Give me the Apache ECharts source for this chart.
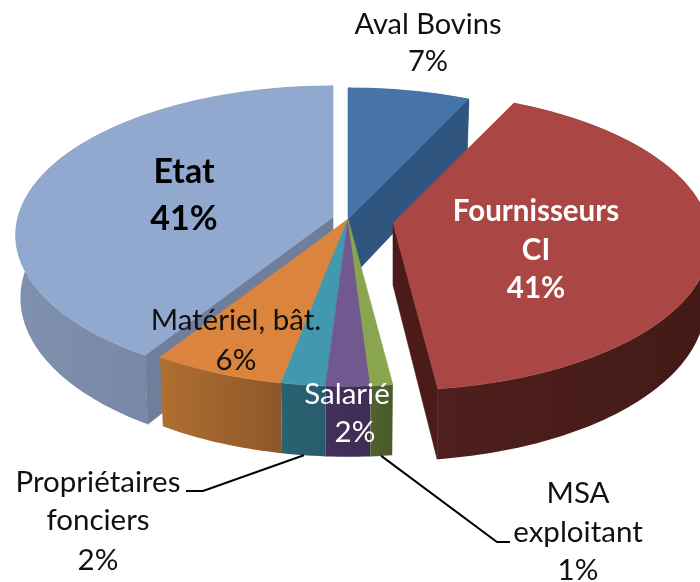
<!DOCTYPE html>
<html><head><meta charset="utf-8">
<style>html,body{margin:0;padding:0;background:#fff}#c{width:700px;height:582px}</style>
<script src="https://cdn.jsdelivr.net/npm/echarts@6/dist/echarts.min.js"></script>
</head><body><div id="c"></div>
<script>
// --- data ---
const sliceNames = ['Aval Bovins', 'Fournisseurs CI', 'MSA exploitant', 'Salarié', 'Propriétaires fonciers', 'Matériel, bât.', 'Etat'];
const shares = [7, 41, 1, 2, 2, 6, 41];
// --- style ---
const topColors  = ['#4673A8', '#AA4643', '#89A54E', '#71588F', '#4198AF', '#DB843D', '#92A9CF'];
const sideColors = [['#30557F','#30557F'], ['#4E1F1C','#431A17'], ['#516130','#4A5A28'], ['#43305A','#3F2D55'], ['#2A6272','#275C6C'], ['#B06F30','#8C5829'], ['#8091B0','#6C7C99']];
const cutColors  = ['#30557F', '#4A1B18', '#4A5A28', '#3F2D55', '#265A6A', '#8C5829', '#6E7E9B'];
// --- layout ---
const center = [348, 219], radiusX = 315, radiusY = 147, persp = 0.121, depth = 62, lowShrink = 0.985;
const explode = [[0,0], [45,4], [0,0], [0,0], [0,0], [0,0], [-15,-2]];
const paintOrder = [6, 0, 1, 5, 4, 3, 2];
// which radial edge of a slice shows its cut face: 'start', 'end' or none
const cutEdge = ['end', 'end', null, null, null, null, 'start'];
const labelFont = '29.5px Lato, sans-serif';
const labels = [
  {i:0, lines:[['Aval Bovins',428,25],['%',428,62]], color:'#111', font:'29px Lato, sans-serif'},
  {i:6, lines:[['Etat',184,172],['%',184,219]], color:'#000', font:'bold 34px Lato, sans-serif'},
  {i:1, lines:[['Fournisseurs',536,211],['CI',536,250],['%',536,288]], color:'#fff', font:'bold 29.5px Lato, sans-serif'},
  {i:5, lines:[['Matériel, bât.',236,320],['%',236,360]], color:'#111', font:labelFont},
  {i:3, lines:[['Salarié',347,394],['%',355,432]], color:'#fff', font:labelFont},
  {i:4, lines:[['Propriétaires',98,482],['fonciers',98,520],['%',98,560]], color:'#111', font:labelFont},
  {i:2, lines:[['MSA',578,493],['exploitant',578,532],['%',578,570]], color:'#111', font:labelFont}
];
const leaders = [{i:4, via:[[203,491],[186,491]]}, {i:2, via:[[497,542],[510,542]]}];

const total = shares.reduce((a,b)=>a+b,0);
const starts = []; shares.reduce((a,b,i)=>{starts[i]=a; return a+b;},0);
const rad = v => v/total*2*Math.PI;

function project(th, ex, low){
  const s = 1/(1+persp*Math.cos(th));
  return [center[0]+ex[0]+radiusX*Math.sin(th)*s*(low?lowShrink:1),
          center[1]+ex[1]-radiusY*Math.cos(th)*s+(low?depth*s:0)];
}
function arc(a,b,ex,low){
  const n=Math.max(4,Math.ceil((b-a)/0.02)), out=[];
  for(let k=0;k<=n;k++) out.push(project(a+(b-a)*k/n,ex,low));
  return out;
}
function apex(ex,low){return [center[0]+ex[0],center[1]+ex[1]+(low?depth:0)];}
function poly(points,fill,z){
  return {type:'polygon',shape:{points},z2:z,silent:true,
    style:{fill,stroke:typeof fill==='string'?fill:null,lineWidth:typeof fill==='string'?0.6:0}};
}
function renderSlice(params,api){
  const i=paintOrder[params.dataIndex], z=params.dataIndex*10;
  const a=rad(api.value(1)), b=a+rad(api.value(0)), ex=explode[i];
  const top=arc(a,b,ex,false), low=arc(a,b,ex,true);
  const grad=new echarts.graphic.LinearGradient(0,0,1,0,[{offset:0,color:sideColors[i][0]},{offset:1,color:sideColors[i][1]}]);
  const c=[];
  c.push(poly(top.concat(low.slice().reverse()),grad,z));
  if(cutEdge[i]){
    const t=cutEdge[i]==='end'?b:a;
    c.push(poly([apex(ex,false),project(t,ex,false),project(t,ex,true),apex(ex,true)],cutColors[i],z+1));
  }
  c.push(poly([apex(ex,false)].concat(top),topColors[i],z+2));
  return {type:'group',children:c};
}
function renderNote(params,api){
  const l=labels[params.dataIndex], v=api.value(0), c=[];
  l.lines.forEach(t=>c.push({type:'text',z2:200,silent:true,
    style:{text:t[0]==='%'?v+'%':t[0],x:t[1],y:t[2],fill:l.color,font:l.font,align:'center',verticalAlign:'middle'}}));
  leaders.filter(d=>d.i===l.i).forEach(d=>{
    const mid=rad(starts[d.i]+shares[d.i]/2);
    c.push({type:'polyline',z2:150,silent:true,shape:{points:[project(mid,explode[d.i],true)].concat(d.via)},
      style:{stroke:'#000',lineWidth:2,fill:null}});
  });
  return {type:'group',children:c};
}
const chart=echarts.init(document.getElementById('c'),null,{renderer:'canvas',width:700,height:582});
chart.setOption({
  animation:false, backgroundColor:'#fff',
  series:[
    {type:'custom',coordinateSystem:'none',renderItem:renderSlice,silent:true,clip:false,
     data:paintOrder.map(i=>({name:sliceNames[i],value:[shares[i],starts[i]]}))},
    {type:'custom',coordinateSystem:'none',renderItem:renderNote,silent:true,z:5,
     data:labels.map(l=>({name:sliceNames[l.i],value:[shares[l.i]]}))}
  ]
});
</script></body></html>
